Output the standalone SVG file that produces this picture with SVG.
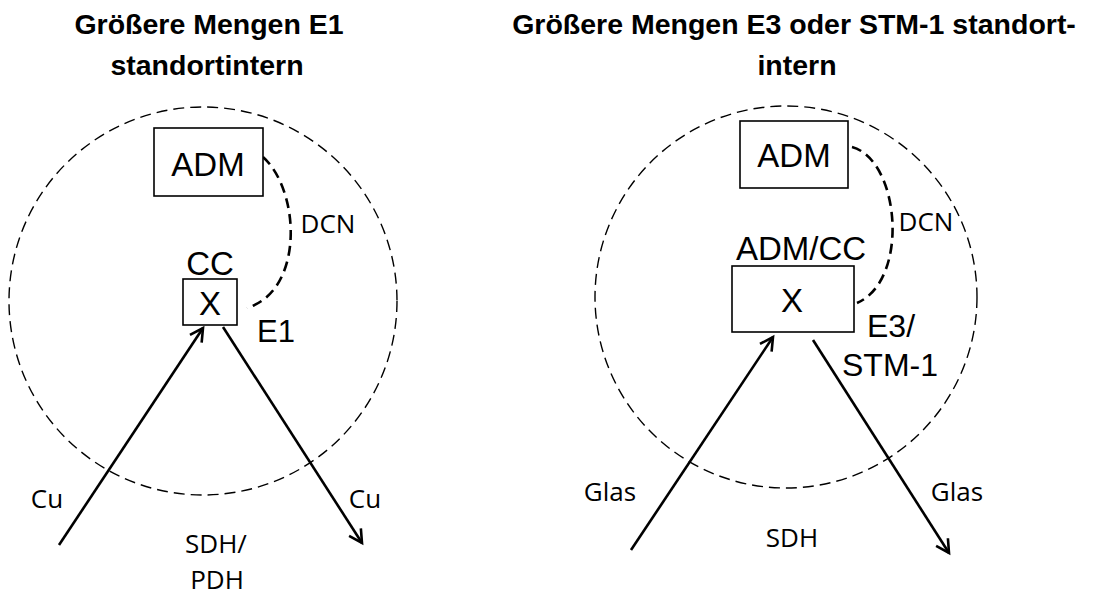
<svg xmlns="http://www.w3.org/2000/svg" width="1099" height="597" viewBox="0 0 1099 597">
<style>
.title{font-family:"Liberation Sans",Arial,sans-serif;font-weight:bold;font-size:28.5px;text-anchor:middle;fill:#000}
.big{font-family:"Liberation Sans",Arial,sans-serif;font-size:33px;fill:#000}
.mid{text-anchor:middle}
.small{font-family:"Open Sans","Noto Sans",sans-serif;font-size:26px;fill:#000;text-anchor:middle}
.box{fill:#fff;stroke:#000;stroke-width:1.6}
.zone{fill:none;stroke:#000;stroke-width:1.4;stroke-dasharray:11 6}
.dcn{fill:none;stroke:#000;stroke-width:2.6;stroke-dasharray:10 6}
.link{fill:none;stroke:#000;stroke-width:2.6}
</style>
<defs>
<marker id="arr" markerUnits="userSpaceOnUse" markerWidth="24" markerHeight="24" refX="0" refY="0" orient="auto" overflow="visible">
<path d="M-13,-7 L0,0 L-13,7" fill="none" stroke="#000" stroke-width="2.6"/>
</marker>
</defs>
<g id="titles">
<text class="title" x="209" y="34">Größere Mengen E1</text>
<text class="title" x="207" y="75">standortintern</text>
<text class="title" x="794" y="34">Größere Mengen E3 oder STM-1 standort-</text>
<text class="title" x="797" y="75">intern</text>
</g>
<g id="zone-left"><ellipse class="zone" cx="203" cy="301" rx="194" ry="194"/></g>
<g id="zone-right"><ellipse class="zone" cx="786" cy="297" rx="191" ry="191"/></g>
<g id="connectors">
<path class="dcn" d="M263,157 C300,190 305,290 247,308"/>
<path class="dcn" d="M852,147 C900,160 910,280 857,303"/>
<line class="link" x1="59" y1="545" x2="203" y2="328" marker-end="url(#arr)"/>
<line class="link" x1="223" y1="327" x2="362" y2="543" marker-end="url(#arr)"/>
<line class="link" x1="631" y1="550" x2="773" y2="337" marker-end="url(#arr)"/>
<line class="link" x1="813" y1="340" x2="949" y2="553" marker-end="url(#arr)"/>
</g>
<g id="adm-left">
<rect class="box" x="154" y="128" width="109" height="68"/>
<text class="big mid" x="208" y="176">ADM</text>
</g>
<g id="cc-left">
<text class="big mid" x="210" y="275">CC</text>
<rect class="box" x="183" y="279" width="54" height="46"/>
<text class="big mid" x="210" y="315">X</text>
</g>
<g id="adm-right">
<rect class="box" x="740" y="121" width="108" height="67"/>
<text class="big mid" x="794" y="167">ADM</text>
</g>
<g id="admcc-right">
<text class="big mid" x="801" y="260">ADM/CC</text>
<rect class="box" x="732" y="266" width="122" height="66"/>
<text class="big mid" x="792" y="312">X</text>
</g>
<g id="labels">
<text class="big" x="257" y="342" style="font-size:31px">E1</text>
<text class="big" x="867" y="337" style="font-size:32px">E3/</text>
<text class="big" x="842" y="376" style="font-size:32px">STM-1</text>
<text class="small" x="328" y="233">DCN</text>
<text class="small" x="926" y="231">DCN</text>
<text class="small" x="47" y="508">Cu</text>
<text class="small" x="365" y="508">Cu</text>
<text class="small" x="216" y="553">SDH/</text>
<text class="small" x="217" y="589">PDH</text>
<text class="small" x="610" y="501">Glas</text>
<text class="small" x="957" y="501">Glas</text>
<text class="small" x="792" y="547">SDH</text>
</g>
</svg>
